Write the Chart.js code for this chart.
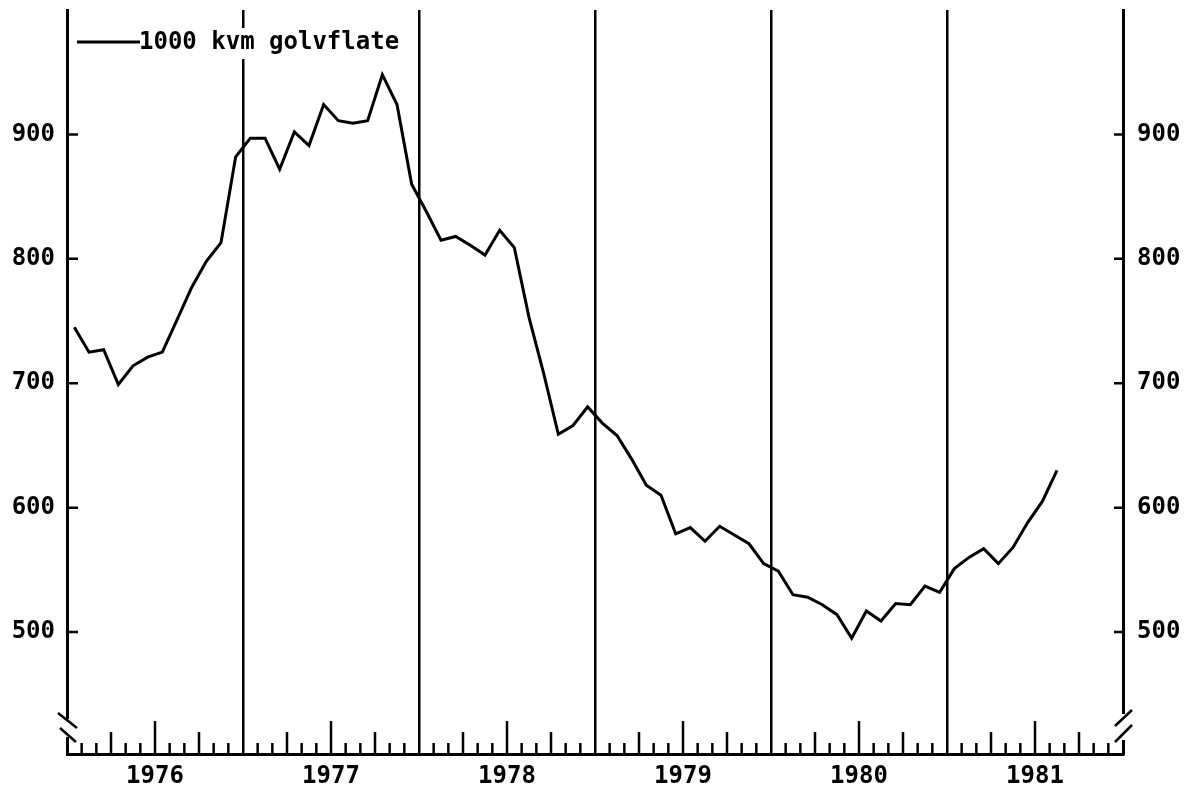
<!DOCTYPE html>
<html>
<head>
<meta charset="utf-8">
<title>1000 kvm golvflate</title>
<script src="https://cdn.jsdelivr.net/npm/chart.js@4.4.1/dist/chart.umd.min.js"></script>
<style>
body { margin: 0; background: #fff; }
#wrap { width: 1191px; height: 800px; }
</style>
</head>
<body>
<div id="wrap"><canvas id="golv"></canvas></div>
<script>
// monthly values, 1000 kvm golvflate
var years = [1976, 1977, 1978, 1979, 1980, 1981];
var v1976 = [745, 725, 727, 699, 714, 721, 725, 751, 777, 798, 813, 882];
var v1977 = [897, 897, 872, 902, 891, 924, 911, 909, 911, 948, 924, 860];
var v1978 = [838, 815, 818, 811, 803, 823, 809, 753, 708, 659, 666, 681];
var v1979 = [668, 658, 639, 618, 610, 579, 584, 573, 585, 578, 571, 555];
var v1980 = [549, 530, 528, 522, 514, 495, 517, 509, 523, 522, 537, 532];
var v1981 = [551, 560, 567, 555, 568, 588, 605, 630];
var yTicks = [500, 600, 700, 800, 900];
var seriesName = '1000 kvm golvflate';

var perYear = [v1976, v1977, v1978, v1979, v1980, v1981];
var points = [];
perYear.forEach(function (vals, i) {
    vals.forEach(function (v, m) {
        points.push({ x: years[i] + (m + 0.5) / 12, y: v });
    });
});

var plotFont = { family: '"DejaVu Sans Mono", monospace', size: 24, weight: 'bold' };

// month ticks, inward y ticks, axis breaks and the legend
var axisMarks = {
    id: 'axisMarks',
    afterDatasetsDraw: function (chart) {
        var ctx = chart.ctx, a = chart.chartArea;
        var xs = chart.scales.x, ys = chart.scales.y;
        var first = years[0], last = years[years.length - 1] + 1;
        ctx.save();
        ctx.strokeStyle = '#000';
        ctx.lineWidth = 2.5;
        ctx.beginPath();
        for (var k = 1; k < (last - first) * 12; k++) {
            if (k % 12 === 0) continue;
            var len = k % 12 === 6 ? 33 : (k % 3 === 0 ? 22 : 11);
            var px = xs.getPixelForValue(first + k / 12);
            ctx.moveTo(px, a.bottom);
            ctx.lineTo(px, a.bottom - len);
        }
        yTicks.forEach(function (t) {
            var py = ys.getPixelForValue(t);
            ctx.moveTo(a.left, py);
            ctx.lineTo(a.left + 11, py);
            ctx.moveTo(a.right, py);
            ctx.lineTo(a.right - 9, py);
        });
        ctx.stroke();

        // breaks in the y axes
        ctx.fillStyle = '#fff';
        ctx.fillRect(a.left - 3, a.bottom - 35, 6, 18);
        ctx.fillRect(a.right - 3, a.bottom - 40, 6, 26);
        ctx.beginPath();
        ctx.moveTo(a.left - 9, a.bottom - 41);
        ctx.lineTo(a.left + 10, a.bottom - 26);
        ctx.moveTo(a.left - 7, a.bottom - 26);
        ctx.lineTo(a.left + 9, a.bottom - 12);
        ctx.moveTo(a.right - 8, a.bottom - 28);
        ctx.lineTo(a.right + 9, a.bottom - 44);
        ctx.moveTo(a.right - 8, a.bottom - 12);
        ctx.lineTo(a.right + 9, a.bottom - 29);
        ctx.stroke();

        // legend
        ctx.fillRect(a.left + 72, a.top + 18, 258, 31);
        ctx.lineWidth = 3;
        ctx.beginPath();
        ctx.moveTo(a.left + 10, a.top + 32);
        ctx.lineTo(a.left + 73, a.top + 32);
        ctx.stroke();
        ctx.fillStyle = '#000';
        ctx.font = 'bold 24px "DejaVu Sans Mono", monospace';
        ctx.textBaseline = 'middle';
        ctx.textAlign = 'left';
        ctx.fillText(seriesName, a.left + 72, a.top + 33);
        ctx.restore();
    }
};

function setYTicks(scale) {
    scale.ticks = yTicks.map(function (v) { return { value: v }; });
}

function fitY(width) {
    return function (scale) {
        scale.width = width;
        scale.paddingTop = 0;
        scale.paddingBottom = 0;
    };
}

new Chart('golv', {
    type: 'line',
    data: {
        datasets: [{
            label: seriesName,
            data: points,
            borderColor: '#000',
            borderWidth: 3,
            pointRadius: 0,
            tension: 0,
            fill: false
        }]
    },
    options: {
        responsive: true,
        maintainAspectRatio: false,
        animation: false,
        layout: { padding: { top: 10, left: 0, right: 0, bottom: 0 } },
        plugins: {
            legend: { display: false },
            tooltip: { enabled: false }
        },
        scales: {
            x: {
                type: 'linear',
                min: years[0],
                max: years[years.length - 1] + 1,
                afterBuildTicks: function (scale) {
                    scale.ticks = years.concat([years[years.length - 1] + 1]).map(function (v) { return { value: v }; });
                },
                afterFit: function (scale) {
                    scale.height = 46;
                    scale.paddingLeft = 0;
                    scale.paddingRight = 0;
                },
                grid: {
                    drawTicks: false,
                    lineWidth: 2.5,
                    color: function (c) {
                        var v = c.tick ? c.tick.value : 0;
                        return v > years[0] && v <= years[years.length - 1] ? '#000' : 'rgba(0,0,0,0)';
                    }
                },
                border: { display: true, color: '#000', width: 3 },
                ticks: {
                    color: '#000',
                    font: plotFont,
                    padding: 8,
                    maxRotation: 0,
                    autoSkip: false,
                    labelOffset: 88,
                    callback: function (v) { return v <= years[years.length - 1] ? String(v) : ''; }
                }
            },
            y: {
                position: 'left',
                min: 402,
                max: 1000,
                afterBuildTicks: setYTicks,
                afterFit: fitY(67),
                grid: { drawOnChartArea: false, drawTicks: false },
                border: { display: true, color: '#000', width: 3 },
                ticks: { color: '#000', font: plotFont, padding: 12 }
            },
            y2: {
                position: 'right',
                min: 402,
                max: 1000,
                afterBuildTicks: setYTicks,
                afterFit: fitY(68),
                grid: { drawOnChartArea: false, drawTicks: false },
                border: { display: true, color: '#000', width: 3 },
                ticks: { color: '#000', font: plotFont, padding: 14 }
            }
        }
    },
    plugins: [axisMarks]
});
</script>
</body>
</html>
